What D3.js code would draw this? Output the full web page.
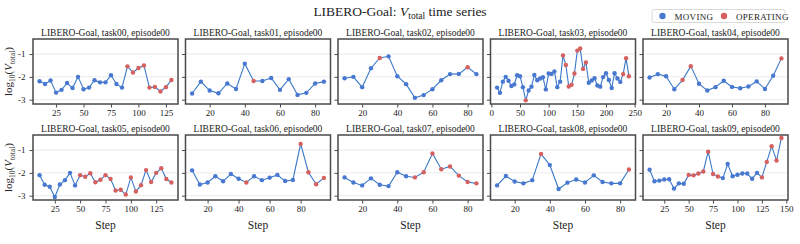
<!DOCTYPE html>
<meta charset="utf-8">
<script src="https://d3js.org/d3.v7.min.js"></script>
<style>
body { margin: 0; background: #fff; }
text { font-family: "Liberation Serif", "DejaVu Serif", serif; fill: #222; }
</style>
<div id="my_dataviz"></div>
<script>

// log10(V_total) per task, one value every 5 steps starting at step 10
var task00 = [-2.19,-2.31,-2.16,-2.69,-2.57,-2.27,-2.49,-2.0,-2.54,-2.47,-2.15,-2.24,-2.24,-1.93,-2.31,-2.47,-1.54,-1.81,-1.61,-1.5,-2.47,-2.44,-2.64,-2.45,-2.14];
var task01 = [-2.73,-2.21,-2.6,-2.72,-2.29,-2.53,-1.42,-2.18,-2.18,-2.05,-2.57,-2.1,-2.79,-2.7,-2.29,-2.21];
var task02 = [-2.06,-2.0,-2.45,-1.62,-1.17,-1.1,-1.97,-2.32,-2.92,-2.8,-2.54,-2.15,-1.88,-1.87,-1.58,-1.88];
var task03 = [-2.47,-2.7,-2.21,-2.0,-2.17,-2.4,-2.33,-1.93,-1.97,-2.45,-3.03,-2.6,-2.43,-1.92,-2.15,-2.07,-2.02,-2.55,-1.85,-1.87,-1.76,-2.45,-2.21,-1.06,-1.48,-2.42,-2.35,-1.85,-0.85,-0.76,-1.65,-1.37,-2.26,-2.16,-2.06,-2.38,-2.43,-2.01,-1.84,-2.14,-2.49,-1.84,-2.07,-2.22,-1.88,-1.18,-1.97];
var task04 = [-2.03,-1.88,-1.97,-2.54,-2.14,-1.53,-2.3,-2.6,-2.45,-2.17,-2.44,-2.5,-2.42,-2.2,-2.53,-1.95,-1.19];
var task05 = [-2.1,-2.52,-2.61,-3.06,-2.51,-2.32,-2.0,-2.55,-2.1,-2.17,-2.02,-2.41,-2.3,-2.1,-2.27,-2.77,-2.74,-2.95,-2.2,-2.82,-2.54,-1.88,-2.4,-2.0,-1.8,-2.27,-2.42];
var task06 = [-1.89,-2.51,-2.42,-2.15,-2.37,-2.05,-2.26,-2.42,-2.15,-2.32,-2.21,-2.09,-2.36,-2.31,-0.73,-1.97,-2.5,-2.22];
var task07 = [-2.2,-2.42,-2.55,-2.24,-2.52,-2.58,-1.97,-2.15,-2.2,-1.97,-1.15,-1.84,-1.72,-2.12,-2.4,-2.46];
var task08 = [-2.55,-2.14,-2.38,-2.46,-2.32,-1.17,-1.66,-2.71,-2.43,-2.29,-2.42,-2.11,-2.4,-2.46,-2.46,-1.85];
var task09 = [-1.86,-2.37,-2.34,-2.29,-2.28,-2.69,-2.46,-2.48,-2.09,-2.11,-2.03,-1.94,-1.07,-2.05,-2.16,-2.23,-1.61,-2.15,-2.08,-2.03,-2.03,-2.26,-2.0,-2.2,-1.52,-0.83,-1.46,-0.47];

// phase per point: 0 = MOVING, 1 = OPERATING
var phase00 = [0,0,0,0,0,0,0,0,0,0,0,0,0,0,0,0,1,1,1,1,1,1,1,1,1];
var phase01 = [0,0,0,0,0,0,0,1,0,0,0,0,0,0,0,0];
var phase02 = [0,0,0,0,1,0,0,0,0,0,0,0,0,0,1,0];
var phase03 = [0,0,0,0,0,0,0,0,0,0,1,0,0,0,0,0,0,0,0,0,0,0,0,1,1,1,1,1,1,1,1,1,0,0,0,0,0,0,0,0,0,0,0,0,1,1,1];
var phase04 = [0,0,0,0,1,1,0,0,0,0,0,0,0,0,0,0,1];
var phase05 = [0,0,0,0,0,0,0,0,1,1,1,1,1,1,1,1,1,1,1,1,1,1,1,1,1,1,1];
var phase06 = [0,0,0,0,0,0,0,1,0,0,0,0,0,0,1,1,1,1];
var phase07 = [0,0,0,0,0,0,0,0,1,1,1,1,1,1,1,1];
var phase08 = [0,0,0,0,0,1,0,0,0,0,0,0,0,0,0,1];
var phase09 = [0,0,0,0,0,0,0,0,1,1,1,1,1,1,1,0,0,0,0,0,0,0,0,1,1,1,1,1];

// x tick labels per panel
var ticks25 = [25, 50, 75, 100, 125];
var ticks20 = [20, 40, 60, 80];
var ticks50 = [0, 50, 100, 150, 200, 250];
var ticks25b = [25, 50, 75, 100, 125, 150];

var tasks = [task00, task01, task02, task03, task04, task05, task06, task07, task08, task09];
var phases = [phase00, phase01, phase02, phase03, phase04, phase05, phase06, phase07, phase08, phase09];
var xTicks = [ticks25, ticks20, ticks20, ticks50, ticks20, ticks25, ticks20, ticks20, ticks20, ticks25b];
var taskNames = ["task00","task01","task02","task03","task04","task05","task06","task07","task08","task09"];
var yTicks = [-3, -2, -1];
var phaseNames = ["MOVING", "OPERATING"];
var firstStep = 10, stepEvery = 5;

var colors = ["#4878d0", "#d65f5f"];
var lineColor = "#3a78c8";

var W = 800, H = 244;
var pw = 145, ph = 65;
var lefts = [33, 185.5, 338, 490.5, 643];
var tops = [39, 135];

var svg = d3.select("#my_dataviz")
  .append("svg")
    .attr("width", W)
    .attr("height", H);

// shared y scale with matplotlib-like 5% margins
var allVals = d3.merge(tasks);
var ymin = d3.min(allVals), ymax = d3.max(allVals), ypad = (ymax - ymin) * 0.05;
var y = d3.scaleLinear().domain([ymin - ypad, ymax + ypad]).range([ph, 0]);

// title
var title = svg.append("text")
  .attr("x", 400).attr("y", 16)
  .attr("text-anchor", "middle")
  .style("font-size", "13.5px");
title.append("tspan").text("LIBERO-Goal: ");
title.append("tspan").style("font-style", "italic").text("V");
title.append("tspan").attr("dy", 2.5).style("font-size", "9.5px").text("total");
title.append("tspan").attr("dy", -2.5).text(" time series");

// legend
var leg = svg.append("g").attr("transform", "translate(652,9.5)");
leg.append("rect")
  .attr("width", 133).attr("height", 13)
  .attr("rx", 2)
  .attr("fill", "#fff").attr("stroke", "#d0d0d0").attr("stroke-width", 0.8);
var legX = [10.5, 72];
phaseNames.forEach(function(name, i) {
  leg.append("circle").attr("cx", legX[i]).attr("cy", 6.5).attr("r", 3.2).attr("fill", colors[i]);
  leg.append("text").attr("x", legX[i] + 12).attr("y", 10)
    .style("font-size", "9px").style("letter-spacing", "0.3px").text(name);
});

tasks.forEach(function(vals, k) {
  var row = Math.floor(k / 5), col = k % 5;
  var g = svg.append("g")
    .attr("transform", "translate(" + lefts[col] + "," + tops[row] + ")");

  var data = vals.map(function(v, i) {
    return {step: firstStep + i * stepEvery, v: v, p: phases[k][i]};
  });
  var xmin = d3.min(data, function(d) { return d.step; });
  var xmax = d3.max(data, function(d) { return d.step; });
  var xpad = (xmax - xmin) * 0.05;
  var x = d3.scaleLinear().domain([xmin - xpad, xmax + xpad]).range([0, pw]);

  // grid
  g.append("g").selectAll("line")
    .data(yTicks).enter().append("line")
      .attr("x1", 0).attr("x2", pw)
      .attr("y1", function(d) { return y(d); })
      .attr("y2", function(d) { return y(d); })
      .attr("stroke", "#e6e6e6").attr("stroke-width", 0.8);

  // axes
  var xAxis = g.append("g")
    .attr("transform", "translate(0," + ph + ")")
    .call(d3.axisBottom(x).tickValues(xTicks[k]).tickSize(3.5).tickPadding(2.5));
  var yAxis = g.append("g")
    .call(d3.axisLeft(y).tickValues(yTicks).tickSize(3.5).tickPadding(4)
      .tickFormat(function(d) { return col === 0 ? d : ""; }));
  [xAxis, yAxis].forEach(function(a) {
    a.select(".domain").remove();
    a.selectAll("line").attr("stroke", "#333").attr("stroke-width", 0.9);
    a.selectAll("text").style("font-size", "9px")
      .style("font-family", "'Liberation Serif', serif").attr("fill", "#333");
  });

  // line and points
  g.append("path")
    .datum(data)
    .attr("fill", "none")
    .attr("stroke", lineColor)
    .attr("stroke-width", 1.1)
    .attr("d", d3.line()
      .x(function(d) { return x(d.step); })
      .y(function(d) { return y(d.v); }));

  g.append("g").selectAll("circle")
    .data(data).enter().append("circle")
      .attr("cx", function(d) { return x(d.step); })
      .attr("cy", function(d) { return y(d.v); })
      .attr("r", 2.2)
      .attr("fill", function(d) { return colors[d.p]; });

  // frame
  g.append("rect")
    .attr("width", pw).attr("height", ph)
    .attr("fill", "none").attr("stroke", "#4a4a4a").attr("stroke-width", 1.5);

  // panel title
  g.append("text")
    .attr("x", pw / 2).attr("y", -3)
    .attr("text-anchor", "middle")
    .style("font-size", "9.5px")
    .text("LIBERO-Goal, " + taskNames[k] + ", episode00");

  if (row === 1) {
    g.append("text")
      .attr("x", pw / 2).attr("y", ph + 29)
      .attr("text-anchor", "middle")
      .style("font-size", "11.5px")
      .text("Step");
  }

  if (col === 0) {
    var yl = g.append("text")
      .attr("transform", "translate(-21," + (ph / 2) + ") rotate(-90)")
      .attr("text-anchor", "middle")
      .style("font-size", "11px");
    yl.append("tspan").text("log");
    yl.append("tspan").attr("dy", 2.5).style("font-size", "7.5px").text("10");
    yl.append("tspan").attr("dy", -2.5).text("(");
    yl.append("tspan").style("font-style", "italic").text("V");
    yl.append("tspan").attr("dy", 2.5).style("font-size", "7.5px").text("total");
    yl.append("tspan").attr("dy", -2.5).text(")");
  }
});

</script>
